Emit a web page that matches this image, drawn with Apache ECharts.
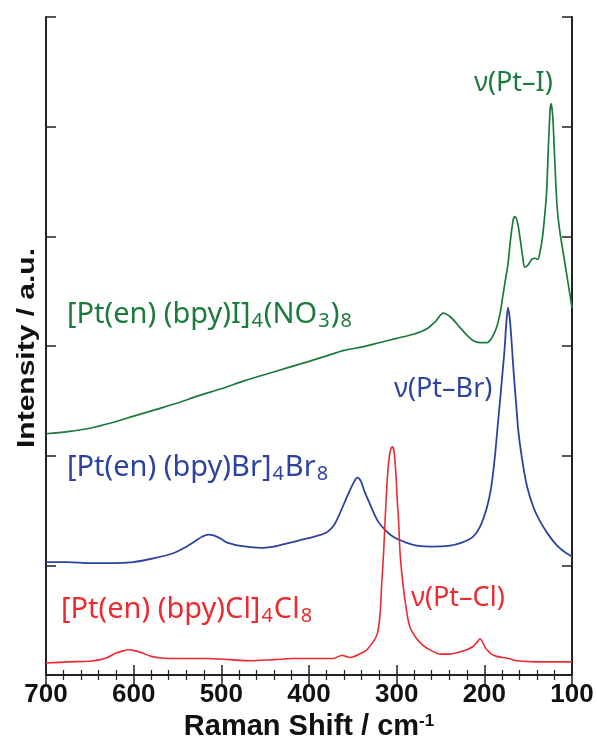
<!DOCTYPE html>
<html>
<head>
<meta charset="utf-8">
<script src="https://cdn.jsdelivr.net/npm/echarts@6/dist/echarts.min.js"></script>
<style>
html, body { margin: 0; padding: 0; background: #fff; }
#main { width: 597px; height: 738px; }
</style>
</head>
<body>
<div id="main"></div>
<script>
var myChart = echarts.init(document.getElementById('main'));

// [Raman shift (cm-1), intensity (a.u.)]
var ptI = [
    [700, 2.20], [675, 2.22], [650, 2.25], [625, 2.30], [600, 2.36], [575, 2.42],
    [550, 2.48], [525, 2.55], [500, 2.61], [475, 2.68], [450, 2.74], [425, 2.80],
    [400, 2.86], [380, 2.91], [360, 2.96], [340, 2.99], [320, 3.03], [300, 3.07],
    [280, 3.11], [265, 3.16], [255, 3.23], [247, 3.30], [238, 3.26],
    [228, 3.17], [220, 3.10], [213, 3.05], [205, 3.03], [197, 3.03], [191, 3.08],
    [186, 3.17], [182, 3.30], [179, 3.45], [176, 3.60], [173, 3.75], [170, 3.98],
    [167, 4.15], [165, 4.18], [162, 4.12], [159, 3.97], [156, 3.80], [154, 3.72],
    [150, 3.74], [146, 3.79], [142, 3.80], [139, 3.79], [136, 3.88], [134, 3.97],
    [131, 4.20], [129, 4.40], [127, 4.80], [125, 5.15], [124, 5.21], [122, 5.10],
    [120, 4.75], [117, 4.27], [114, 4.05], [110, 3.85], [106, 3.65], [102, 3.45],
    [100, 3.35]
];

var ptBr = [
    [700, 1.03], [675, 1.03], [650, 1.02], [625, 1.02], [600, 1.03], [580, 1.06],
    [555, 1.11], [540, 1.17], [530, 1.22], [522, 1.26], [515, 1.28], [508, 1.27],
    [500, 1.24], [494, 1.21], [480, 1.18], [471, 1.17], [452, 1.16], [440, 1.17],
    [425, 1.20], [410, 1.23], [395, 1.26], [380, 1.30], [372, 1.36], [365, 1.47],
    [358, 1.60], [353, 1.69], [348, 1.77], [345, 1.80], [341, 1.77], [336, 1.66],
    [330, 1.55], [322, 1.41], [313, 1.32], [304, 1.26], [290, 1.21], [277, 1.18],
    [260, 1.17], [239, 1.18], [225, 1.21], [213, 1.26], [205, 1.35], [197, 1.53],
    [192, 1.72], [188, 1.99], [185, 2.25], [182, 2.51], [179, 2.78], [177, 2.96],
    [175, 3.20], [173, 3.35], [171, 3.25], [169, 3.05], [167, 2.81], [164, 2.50],
    [161, 2.21], [156, 1.92], [151, 1.71], [144, 1.53], [137, 1.41], [127, 1.28],
    [117, 1.18], [108, 1.12], [102, 1.09], [100, 1.08]
];

var ptCl = [
    [700, 0.11], [675, 0.12], [650, 0.125], [638, 0.14], [630, 0.16], [620, 0.20],
    [612, 0.22], [606, 0.23], [598, 0.22], [590, 0.20], [580, 0.17], [568, 0.155],
    [550, 0.15], [516, 0.15], [490, 0.14], [467, 0.13], [440, 0.14], [418, 0.15],
    [395, 0.15], [373, 0.15], [362, 0.18], [358, 0.17], [353, 0.16], [340, 0.20],
    [334, 0.23], [327, 0.30], [322, 0.38], [319, 0.55], [317, 0.84], [315, 1.10],
    [313, 1.44], [311, 1.75], [309, 1.95], [307, 2.05], [305, 2.08], [303, 2.04],
    [301, 1.85], [299, 1.55], [298, 1.44], [296, 1.10], [293, 0.84], [289, 0.60],
    [285, 0.44], [278, 0.34], [270, 0.27], [260, 0.22], [250, 0.19], [240, 0.19],
    [228, 0.21], [220, 0.23], [213, 0.26], [208, 0.30], [205, 0.33], [202, 0.30],
    [199, 0.25], [197, 0.23], [192, 0.19], [186, 0.17], [179, 0.16], [172, 0.15],
    [163, 0.13], [140, 0.12], [120, 0.12], [100, 0.12]
];

var green = '#1b7a3c';
var blue = '#2d43a0';
var red = '#ec2a2f';
var axisColor = '#222';
var arial = '"Liberation Sans", Arial, sans-serif';
var labelFont = '"Noto Sans", "Noto Sans CJK JP", sans-serif';

function xAxisCfg(pos, showLabel) {
    return {
        type: 'value',
        position: pos,
        min: 100,
        max: 700,
        interval: 100,
        inverse: true,
        axisLine: { lineStyle: { color: axisColor, width: 2 } },
        axisTick: { inside: true, length: 10, lineStyle: { color: axisColor, width: 1.5 } },
        minorTick: { show: true, splitNumber: 5, length: 5, lineStyle: { color: axisColor, width: 1.2 } },
        axisLabel: {
            show: showLabel,
            margin: 7,
            color: '#111',
            fontSize: 26,
            fontWeight: 'bold',
            fontFamily: arial
        },
        splitLine: { show: false }
    };
}

function yAxisCfg(pos) {
    return {
        type: 'value',
        position: pos,
        min: 0,
        max: 6,
        interval: 1,
        axisLine: { show: true, lineStyle: { color: axisColor, width: 2 } },
        axisTick: { show: true, inside: true, length: 10, lineStyle: { color: axisColor, width: 1.5 } },
        axisLabel: { show: false },
        splitLine: { show: false }
    };
}

var bottomAxis = xAxisCfg('bottom', true);
bottomAxis.name = 'Raman Shift / cm{sup|-1}';
bottomAxis.nameLocation = 'middle';
bottomAxis.nameGap = 33;
bottomAxis.nameTextStyle = {
    color: '#111',
    fontSize: 29,
    fontWeight: 'bold',
    fontFamily: arial,
    rich: {
        sup: { fontSize: 17, fontWeight: 'bold', color: '#111', verticalAlign: 'top', fontFamily: arial }
    }
};

function formula(text, color, x, y) {
    return {
        type: 'text',
        left: x,
        top: y,
        style: {
            text: text,
            fill: color,
            font: '29px ' + labelFont,
            rich: {
                m: { fontSize: 29, fontFamily: labelFont, fill: color, lineHeight: 34 },
                s: { fontSize: 20, fontFamily: labelFont, fill: color, lineHeight: 18, verticalAlign: 'bottom', padding: [0, 1, 0, 1] }
            }
        }
    };
}

function bandLabel(text, color, x, y) {
    return {
        type: 'text',
        left: x,
        top: y,
        style: {
            text: text,
            fill: color,
            font: '27px ' + labelFont
        }
    };
}

var option = {
    animation: false,
    backgroundColor: '#fff',
    grid: { left: 46, right: 25, top: 17, bottom: 63, outerBoundsMode: 'none' },
    xAxis: [bottomAxis, xAxisCfg('top', false)],
    yAxis: [yAxisCfg('left'), yAxisCfg('right')],
    series: [
        {
            name: 'Pt-I', type: 'line', data: ptI, showSymbol: false, smooth: 0.3,
            lineStyle: { color: green, width: 1.7 }
        },
        {
            name: 'Pt-Br', type: 'line', data: ptBr, showSymbol: false, smooth: 0.3,
            lineStyle: { color: blue, width: 1.8 }
        },
        {
            name: 'Pt-Cl', type: 'line', data: ptCl, showSymbol: false, smooth: 0.3,
            lineStyle: { color: red, width: 1.6 }
        }
    ],
    graphic: [
        {
            type: 'text',
            x: 27,
            y: 348,
            rotation: Math.PI / 2,
            scaleX: 1,
            scaleY: 0.82,
            style: {
                text: 'Intensity / a.u.',
                fill: '#111',
                font: 'bold 30px ' + arial,
                align: 'center',
                verticalAlign: 'middle',
                textAlign: 'center',
                textVerticalAlign: 'middle'
            }
        },
        formula('{m|[Pt(en) (bpy)I]}{s|4}{m|(NO}{s|3}{m|)}{s|8}', green, 67, 300),
        formula('{m|[Pt(en) (bpy)Br]}{s|4}{m|Br}{s|8}', blue, 67, 453),
        formula('{m|[Pt(en) (bpy)Cl]}{s|4}{m|Cl}{s|8}', red, 61, 595),
        bandLabel('ν(Pt–I)', green, 474, 70),
        bandLabel('ν(Pt–Br)', blue, 394, 376),
        bandLabel('ν(Pt–Cl)', red, 411, 585)
    ]
};

myChart.setOption(option);
</script>
</body>
</html>
